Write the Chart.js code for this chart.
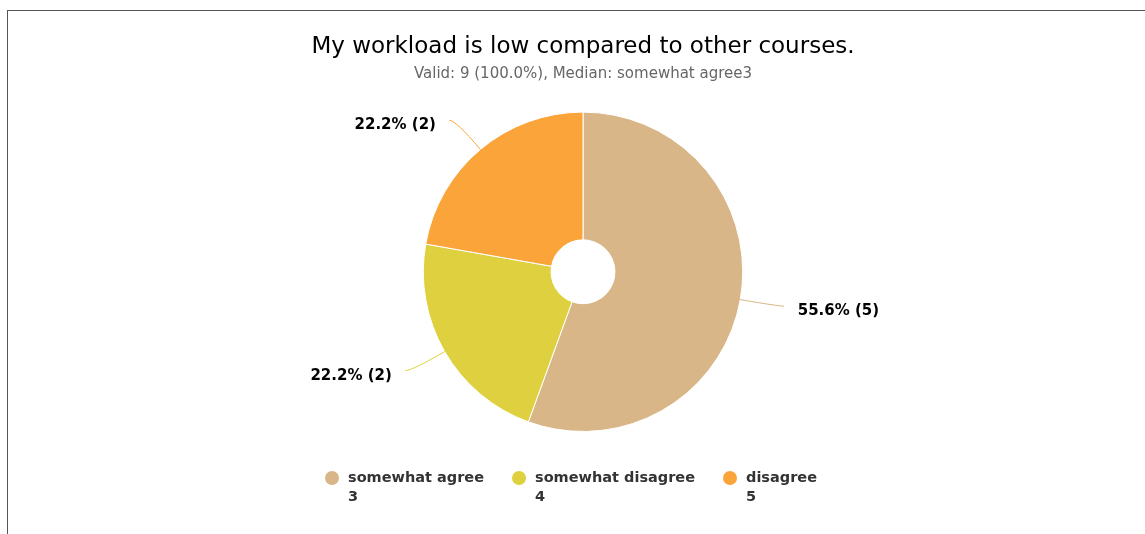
<!DOCTYPE html>
<html>
<head>
<meta charset="utf-8">
<script src="https://cdn.jsdelivr.net/npm/chart.js@4.4.1/dist/chart.umd.min.js"></script>
<style>
  html, body { margin: 0; padding: 0; background: #fff; overflow: hidden; }
  #frame { position: absolute; left: 7px; top: 10px; width: 1300px; height: 700px; border: 1px solid #555; }
  #wrap { position: absolute; left: 0; top: 0; width: 1145px; height: 534px; }
</style>
</head>
<body>
<div id="frame"></div>
<div id="wrap"><canvas id="chart" width="1145" height="534"></canvas></div>
<script>
const categories = ['somewhat agree', 'somewhat disagree', 'disagree'];
const codes = ['3', '4', '5'];
const counts = [5, 2, 2];
const colors = ['#d8b687', '#ded03e', '#fba43a'];
const titleText = 'My workload is low compared to other courses.';
const subtitleText = 'Valid: 9 (100.0%), Median: somewhat agree3';

const FONT = '"DejaVu Sans", sans-serif';

// leader lines + "xx.x% (n)" labels outside the slices
const outsideLabels = {
    id: 'outsideLabels',
    afterDatasetsDraw(chart) {
        const ctx = chart.ctx;
        const total = counts.reduce((a, b) => a + b, 0);
        chart.getDatasetMeta(0).data.forEach((arc, i) => {
            const p = arc.getProps(['x', 'y', 'startAngle', 'endAngle', 'outerRadius']);
            const mid = (p.startAngle + p.endAngle) / 2;
            const c = Math.cos(mid), s = Math.sin(mid);
            const dir = c >= 0 ? 1 : -1;
            const x0 = p.x + c * p.outerRadius, y0 = p.y + s * p.outerRadius;
            const cx = p.x + c * (p.outerRadius + 38), cy = p.y + s * (p.outerRadius + 38);
            const x2 = cx + dir * 6.5, y2 = cy;
            ctx.save();
            ctx.strokeStyle = colors[i];
            ctx.lineWidth = 1;
            ctx.beginPath();
            ctx.moveTo(x0, y0);
            ctx.quadraticCurveTo(cx, cy, x2, y2);
            ctx.stroke();
            ctx.fillStyle = '#000';
            ctx.font = 'bold 15px ' + FONT;
            ctx.textBaseline = 'middle';
            ctx.textAlign = dir > 0 ? 'left' : 'right';
            const pct = (counts[i] / total * 100).toFixed(1);
            ctx.fillText(pct + '% (' + counts[i] + ')', x2 + dir * 13.5, y2 + 5);
            ctx.restore();
        });
    }
};

// legend with two lines per item, centred under the pie
const twoLineLegend = {
    id: 'twoLineLegend',
    afterDraw(chart) {
        const ctx = chart.ctx;
        ctx.save();
        ctx.font = 'bold 14.5px ' + FONT;
        const r = 7, gapText = 16, gapItem = 28;
        const widths = categories.map(t => ctx.measureText(t).width);
        let total = 0;
        widths.forEach((w, i) => { total += r + gapText + w; if (i < widths.length - 1) total += gapItem; });
        let x = 571 - total / 2;
        const y = 478;
        categories.forEach((t, i) => {
            ctx.fillStyle = colors[i];
            ctx.beginPath();
            ctx.arc(x + r, y, r, 0, Math.PI * 2);
            ctx.fill();
            ctx.fillStyle = '#333';
            ctx.textAlign = 'left';
            ctx.textBaseline = 'middle';
            ctx.fillText(t, x + r + gapText, y);
            ctx.fillText(codes[i], x + r + gapText, y + 19);
            x += r + gapText + widths[i] + gapItem;
        });
        ctx.restore();
    }
};

new Chart(document.getElementById('chart').getContext('2d'), {
    type: 'doughnut',
    data: {
        labels: categories,
        datasets: [{
            data: counts,
            backgroundColor: colors,
            borderColor: '#fff',
            borderWidth: 1,
            hoverOffset: 0
        }]
    },
    options: {
        responsive: false,
        animation: false,
        cutout: '20%',
        layout: { padding: { left: 21, right: 0, top: 0, bottom: 102 } },
        plugins: {
            legend: { display: false },
            tooltip: { enabled: false },
            title: {
                display: true,
                text: titleText,
                color: '#000',
                font: { family: FONT, size: 23, weight: 'normal' },
                padding: { top: 33, bottom: 5 }
            },
            subtitle: {
                display: true,
                text: subtitleText,
                color: '#666',
                font: { family: FONT, size: 15, weight: 'normal' },
                padding: { top: 0, bottom: 28 }
            }
        }
    },
    plugins: [outsideLabels, twoLineLegend]
});
</script>
</body>
</html>
